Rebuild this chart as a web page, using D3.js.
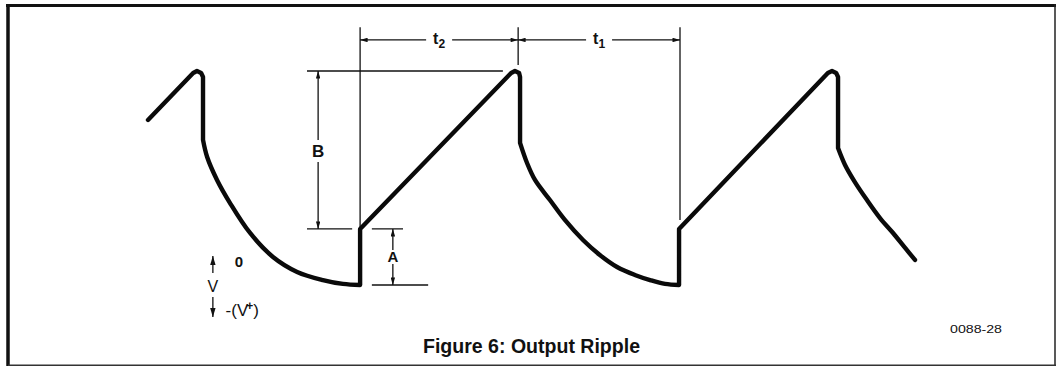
<!DOCTYPE html>
<html>
<head>
<meta charset="utf-8">
<script src="https://cdn.jsdelivr.net/npm/d3@7"></script>
<style>
  html, body { margin: 0; padding: 0; background: #fff; }
  svg { display: block; }
  .lbl { font-family: "Liberation Sans Narrow", "Liberation Sans", Arial, sans-serif; fill: #111; }
</style>
</head>
<body>
<svg id="chart" width="1060" height="367"></svg>
<script>
// Output ripple waveform, time in µs, level in % of peak (0 = most negative point)
const traceTime = [0, 14.2, 15.4, 16.7, 17.3, 17.3, 18.6, 21.7, 25.8, 32.1, 39.3, 46.9, 55.0, 61.3, 66.7,
  66.7, 114.2, 115.4, 116.7, 117.0, 117.0, 119.2, 121.7, 126.4, 131.1, 136.8, 142.1, 147.5, 153.1, 157.9, 162.6, 167.0,
  167.0, 213.8, 215.1, 216.4, 217.0, 217.0, 219.2, 222.3, 226.1, 230.2, 234.3, 238.1, 241.2];
const traceLevel = [77.1, 99.1, 100, 99.1, 97.2, 67.8, 59.8, 49.1, 38.3, 24.3, 13.1, 6.1, 2.3, 0.5, 0,
  26.2, 99.1, 100, 99.1, 97.2, 66.4, 57.0, 49.1, 39.7, 30.4, 21.0, 14.0, 8.4, 4.7, 2.3, 0.5, 0,
  26.2, 99.1, 100, 99.1, 97.2, 64.0, 56.1, 48.1, 39.7, 31.3, 24.3, 17.3, 11.7];
// index ranges of the discharge curves (smoothed), the rest is straight
const decayPieces = [[5, 14], [20, 31], [37, 44]];

// timing marks: start of ramp, peak, next ramp start
const markTime = [66.7, 116.4, 167.3];
const markBottom = [26.6, 102.8, 30.4];
const timeLabels = [{ name: 't', sub: '2', from: 0, to: 1 }, { name: 't', sub: '1', from: 1, to: 2 }];
const dimLevel = 114.5, extTop = 120.5;

// amplitude marks
const peakLevel = 100, jumpLevel = 26.2, floorLevel = 0;
const bAt = 53.5, aAt = 77.0;

const svg = d3.select('#chart');
const x = d3.scaleLinear().domain([0, 241.2]).range([148, 915]);
const y = d3.scaleLinear().domain([0, 100]).range([285, 71]);

// frame
svg.append('line').attr('x1', 8).attr('x2', 8).attr('y1', 4).attr('y2', 366).attr('stroke', '#111').attr('stroke-width', 3.5);
svg.append('line').attr('x1', 6).attr('x2', 1056).attr('y1', 5.5).attr('y2', 5.5).attr('stroke', '#111').attr('stroke-width', 3);
svg.append('line').attr('x1', 1055).attr('x2', 1055).attr('y1', 4).attr('y2', 366).attr('stroke', '#222').attr('stroke-width', 1.5);
svg.append('line').attr('x1', 8).attr('x2', 1056).attr('y1', 365.2).attr('y2', 365.2).attr('stroke', '#333').attr('stroke-width', 1.4);

// arrowheads
const defs = svg.append('defs');
[['arr', 8, 4.5], ['arrBig', 9, 5.5]].forEach(([id, w, h]) => {
  defs.append('marker').attr('id', id).attr('viewBox', '0 0 10 6').attr('refX', 10).attr('refY', 3)
    .attr('markerWidth', w).attr('markerHeight', h).attr('markerUnits', 'userSpaceOnUse').attr('orient', 'auto')
    .append('path').attr('d', 'M0,0 L10,3 L0,6 Z').attr('fill', '#111');
});

const thin = (g, x1, y1, x2, y2, arrow) => {
  const l = g.append('line').attr('x1', x1).attr('y1', y1).attr('x2', x2).attr('y2', y2)
    .attr('stroke', '#111').attr('stroke-width', 1.3);
  if (arrow) l.attr('marker-end', `url(#${arrow === true ? 'arr' : arrow})`);
  return l;
};
const dims = svg.append('g');

// extension lines for timing marks
markTime.forEach((t, i) => thin(dims, x(t), y(extTop), x(t), y(markBottom[i])));

// t2 / t1 dimension lines with labels in a gap
timeLabels.forEach(d => {
  const x0 = x(markTime[d.from]), x1 = x(markTime[d.to]), xm = (x0 + x1) / 2, yy = y(dimLevel);
  thin(dims, xm - 13, yy, x0, yy, true);
  thin(dims, xm + 13, yy, x1, yy, true);
  const tx = dims.append('text').attr('class', 'lbl').attr('x', xm - 6).attr('y', yy + 4)
    .attr('font-size', 16).attr('font-weight', 'bold');
  tx.append('tspan').text(d.name);
  tx.append('tspan').attr('font-size', 12).attr('dy', 4).text(d.sub);
});

// B: ramp height
thin(dims, x(50), y(peakLevel), x(111.6), y(peakLevel));
thin(dims, x(50), y(jumpLevel), x(64.2), y(jumpLevel));
const bMid = y(62.6);
thin(dims, x(bAt), bMid - 11, x(bAt), y(peakLevel), true);
thin(dims, x(bAt), bMid + 11, x(bAt), y(jumpLevel), true);
dims.append('text').attr('class', 'lbl').attr('x', x(bAt)).attr('y', bMid + 6)
  .attr('text-anchor', 'middle').attr('font-size', 17).attr('font-weight', 'bold').text('B');

// A: jump height
thin(dims, x(70.4), y(jumpLevel), x(80.2), y(jumpLevel));
thin(dims, x(70.4), y(floorLevel), x(88.1), y(floorLevel));
const aMid = y(13.1);
thin(dims, x(aAt), aMid - 7, x(aAt), y(jumpLevel), true);
thin(dims, x(aAt), aMid + 7, x(aAt), y(floorLevel), true);
dims.append('text').attr('class', 'lbl').attr('x', x(aAt)).attr('y', aMid + 5.5)
  .attr('text-anchor', 'middle').attr('font-size', 15).attr('font-weight', 'bold').text('A');

// voltage direction key
const vx = x(20.4);
thin(dims, vx, y(5.6), vx, y(13.6), 'arrBig');
thin(dims, vx, y(-5.6), vx, y(-15), 'arrBig');
dims.append('text').attr('class', 'lbl').attr('x', vx).attr('y', y(-0.5) + 6)
  .attr('text-anchor', 'middle').attr('font-size', 16).text('V');
dims.append('text').attr('class', 'lbl').attr('x', x(28.6)).attr('y', y(11.2) + 5.5)
  .attr('text-anchor', 'middle').attr('font-size', 15).attr('font-weight', 'bold').text('0');
const vp = dims.append('text').attr('class', 'lbl').attr('x', x(24.4)).attr('y', y(-11.7) + 6).attr('font-size', 17);
vp.append('tspan').text('-(V');
vp.append('tspan').attr('font-size', 12).attr('font-weight', 'bold').attr('dy', -6).attr('dx', -2).text('+');
vp.append('tspan').attr('dy', 6).text(')');

// waveform: straight ramps and drops, smoothed discharge curves
const pts = traceTime.map((t, i) => [t, traceLevel[i]]);
const straight = d3.line().x(d => x(d[0])).y(d => y(d[1]));
const smooth = d3.line().x(d => x(d[0])).y(d => y(d[1])).curve(d3.curveCatmullRom.alpha(0.5));
let pathD = '', from = 0;
decayPieces.forEach(([a, b]) => {
  pathD += straight(pts.slice(from, a + 1)).replace(/^M/, from ? 'L' : 'M');
  pathD += smooth(pts.slice(a, b + 1)).replace(/^M/, 'L');
  from = b;
});
if (from < pts.length - 1) pathD += straight(pts.slice(from)).replace(/^M/, 'L');
svg.append('path').attr('d', pathD)
  .attr('fill', 'none').attr('stroke', '#0a0a0a').attr('stroke-width', 4.4)
  .attr('stroke-linejoin', 'round').attr('stroke-linecap', 'round');

// caption and figure number
svg.append('text').attr('class', 'lbl').attr('x', 423).attr('y', 353)
  .attr('font-size', 20).attr('font-weight', 'bold')
  .attr('textLength', 217).attr('lengthAdjust', 'spacingAndGlyphs').text('Figure 6: Output Ripple');
svg.append('text').attr('class', 'lbl').attr('x', 950).attr('y', 333)
  .attr('font-size', 11).attr('textLength', 52).attr('lengthAdjust', 'spacingAndGlyphs').text('0088-28');
</script>
</body>
</html>
